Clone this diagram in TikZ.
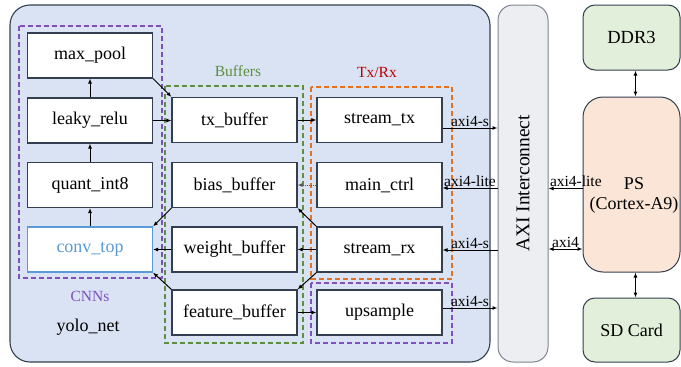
\documentclass[tikz,border=0pt]{standalone}
\usepackage{fontspec}
\setmainfont{Liberation Serif}
\newfontfamily\tnr{Liberation Serif}
\usetikzlibrary{arrows.meta,calc}
\definecolor{edgec}{HTML}{333F50}
\definecolor{yolofill}{HTML}{DAE3F3}
\definecolor{axifill}{HTML}{EDEEF2}
\definecolor{axiedge}{HTML}{7F8590}
\definecolor{grfill}{HTML}{E2EFDA}
\definecolor{psfill}{HTML}{FBE5D6}
\definecolor{cnnc}{HTML}{7F4FBF}
\definecolor{bufc}{HTML}{5E8E3E}
\definecolor{txc}{HTML}{E37222}
\definecolor{txlab}{HTML}{C00000}
\definecolor{convc}{HTML}{5B9BD5}
\begin{document}
\begin{tikzpicture}[x=1pt,y=-1pt,
  blk/.style={draw=edgec,line width=1.1pt,fill=white,minimum width=125pt,minimum height=45pt,inner sep=0pt,font=\tnr\fontsize{18}{20}\selectfont},
  grp/.style={dashed,line width=1.2pt,dash pattern=on 5pt off 3pt},
  arr/.style={-{Latex[length=5pt,width=4pt]},line width=1pt,black},
  darr/.style={{Latex[length=5pt,width=4pt]}-{Latex[length=5pt,width=4pt]},line width=1pt,black},
  lab/.style={font=\tnr\fontsize{15.5}{17}\selectfont,inner sep=1pt},
  big/.style={font=\tnr\fontsize{18}{20}\selectfont,inner sep=0pt}]
\clip (0,0) rectangle (681,367);
\useasboundingbox (0,0) rectangle (681,367);
% yolo_net container
\draw[draw=edgec,line width=1.1pt,fill=yolofill,rounded corners=20pt] (10,5) rectangle (490,362);
% group boxes
\draw[grp,draw=cnnc] (19,26) rectangle (162,278);
\draw[grp,draw=bufc] (165,86) rectangle (303,343);
\draw[grp,draw=txc] (311,87) rectangle (452,279);
\draw[grp,draw=cnnc] (311,283) rectangle (452,343);
\node[lab,text=cnnc] (cnnlab) at (90,296) {CNNs};
\node[lab,text=bufc] (buflab) at (238,71) {Buffers};
\node[lab,text=txlab] (txlab) at (377,72) {Tx/Rx};
\node[big] (yolo) at (88,327) {yolo\_net};
% CNN column
\node[blk] (mp) at (90,55.5) {max\_pool};
\node[blk] (lr) at (90,120.5) {leaky\_relu};
\node[blk] (qi) at (90,185) {quant\_int8};
\node[blk,draw=convc,text=convc] (ct) at (90,249.5) {conv\_top};
% buffers column
\node[blk] (txb) at (234.5,120) {tx\_buffer};
\node[blk] (bb) at (234.5,185) {bias\_buffer};
\node[blk] (wb) at (234.5,249.5) {weight\_buffer};
\node[blk] (fb) at (234.5,312.5) {feature\_buffer};
% tx/rx column
\node[blk] (stx) at (379.5,120) {stream\_tx};
\node[blk] (mc) at (379.5,185) {main\_ctrl};
\node[blk] (srx) at (379.5,249.5) {stream\_rx};
\node[blk] (ups) at (379.5,312.5) {upsample};
% AXI interconnect
\node[draw=axiedge,line width=1pt,fill=axifill,rounded corners=15pt,minimum width=50pt,minimum height=357pt,inner sep=0pt,
  label={[rotate=90,font=\tnr\fontsize{19.5}{21}\selectfont]center:AXI Interconnect}] (axi) at (523,183.5) {};
% right blocks
\node[draw=edgec,line width=1pt,fill=grfill,rounded corners=12pt,minimum width=97pt,minimum height=65pt,inner sep=0pt,font=\tnr\fontsize{18.5}{20}\selectfont] (ddr) at (631.5,37.5) {DDR3};
\node[draw=edgec,line width=1pt,fill=psfill,rounded corners=20pt,minimum width=97pt,minimum height=175pt,inner sep=0pt] (ps) at (631.5,184.5) {};
\node[big,align=center] (pstext) at (634,195) {PS\\(Cortex-A9)};
\node[draw=edgec,line width=1pt,fill=grfill,rounded corners=12pt,minimum width=97pt,minimum height=64pt,inner sep=0pt,font=\tnr\fontsize{18}{20}\selectfont] (sd) at (631.5,330) {SD Card};
% CNN internal arrows
\draw[arr] (ct.north) -- (qi.south);
\draw[arr] (qi.north) -- (lr.south);
\draw[arr] (lr.north) -- (mp.south);
\draw[arr] (mp.south east) -- (txb.north west);
\draw[arr] (lr.east) -- (lr.east -| txb.west);
% buffers to conv_top
\draw[arr] (bb.south west) -- (ct.north east);
\draw[arr] (wb.west) -- (ct.east);
\draw[arr] (fb.north west) -- (ct.south east);
% tx/rx to buffers
\draw[arr] (txb.east) -- (txb.east -| stx.west);
\draw[arr,densely dotted,gray!70!black] (mc.west) -- (mc.west -| bb.east);
\draw[arr] (srx.north west) -- (bb.south east);
\draw[arr] (srx.west) -- (wb.east);
\draw[arr] (srx.south west) -- (fb.north east);
\draw[arr] (fb.east) -- (ups.west);
% to AXI
\coordinate (c1) at ([yshift=-8pt]stx.east);
\coordinate (c2) at ([yshift=-3pt]mc.east);
\coordinate (c3) at ([yshift=-0.5pt]srx.east);
\coordinate (c4) at ([yshift=4.5pt]ups.east);
\draw[arr] (c1) -- node[lab,above] {axi4-s} (c1 -| axi.west);
\draw[arr] (c2 -| axi.west) -- node[lab,above] {axi4-lite} (c2);
\draw[arr] (c3 -| axi.west) -- node[lab,above] {axi4-s} (c3);
\draw[arr] (c4) -- node[lab,above] {axi4-s} (c4 -| axi.west);
% AXI - PS
\coordinate (d1) at (ps.west |- 0,188.5);
\coordinate (d2) at (ps.west |- 0,249);
\draw[arr] (d1) -- (d1 -| axi.east) node[lab,above right,pos=1] {axi4-lite};
\draw[darr] (d2 -| axi.east) -- node[lab,above] {axi4} (d2);
% DDR3 / SD
\draw[darr] ([xshift=4pt]ddr.south) -- ([xshift=4pt]ddr.south |- ps.north);
\draw[darr] ([xshift=4pt]ps.south) -- ([xshift=4pt]sd.north);
\end{tikzpicture}
\end{document}
